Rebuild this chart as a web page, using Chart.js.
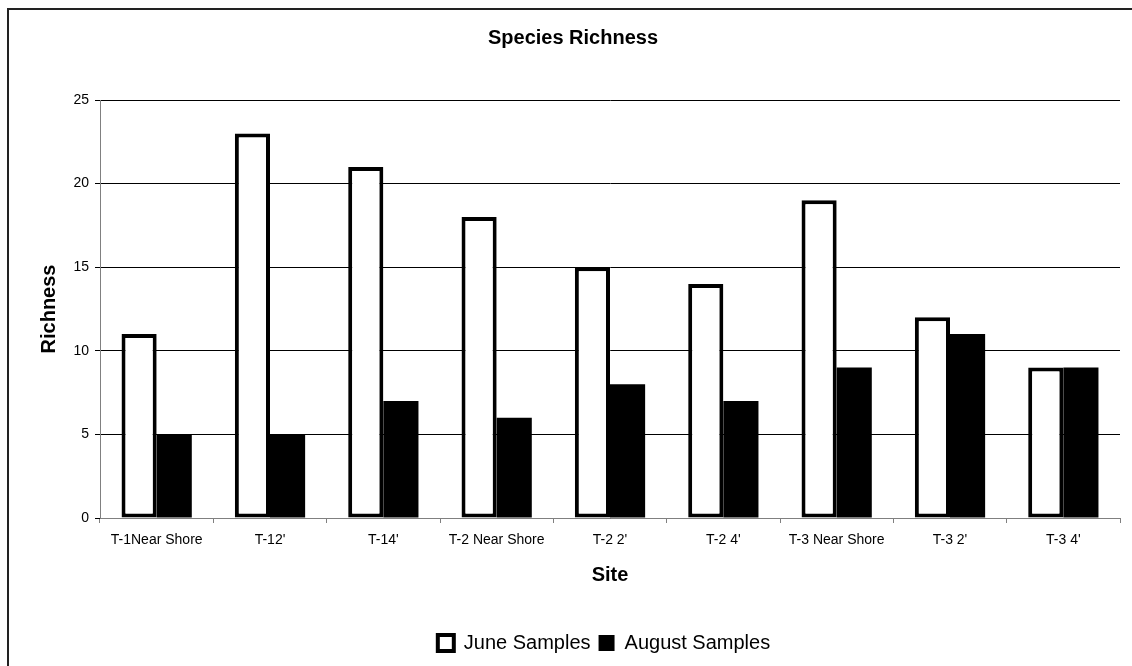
<!DOCTYPE html>
<html>
<head>
<meta charset="utf-8">
<script src="https://cdn.jsdelivr.net/npm/chart.js@4/dist/chart.umd.min.js"></script>
<style>
  html, body { margin: 0; padding: 0; background: #fff; overflow: hidden; }
  #frame { position: absolute; left: 7px; top: 8px; width: 1200px; height: 700px;
           border-left: 2px solid #222; border-top: 2px solid #222; }
  #wrap { position: absolute; left: 0; top: 0; width: 1132px; height: 666px; }
</style>
</head>
<body>
<div id="frame"></div>
<div id="wrap"><canvas id="chart" width="1132" height="666"></canvas></div>
<script>
// site names along the x axis
const sites = ["T-1Near Shore", "T-12'", "T-14'", "T-2 Near Shore", "T-2 2'", "T-2 4'", "T-3 Near Shore", "T-3 2'", "T-3 4'"];
// species richness per site
const juneSamples = [11, 23, 21, 18, 15, 14, 19, 12, 9];
const augustSamples = [5, 5, 7, 6, 8, 7, 9, 11, 9];
const yTicks = [0, 5, 10, 15, 20, 25];

const FONT = '"Liberation Sans", Arial, sans-serif';
Chart.defaults.font.family = FONT;
Chart.defaults.color = '#000';

// nudge title and legend so they center over the plot like the original
const shiftBlocks = {
  id: 'shiftBlocks',
  afterLayout(chart) {
    if (chart.titleBlock) chart.titleBlock.left += 26;
    if (chart.legend) chart.legend.left += 88;
  }
};

new Chart(document.getElementById('chart'), {
  type: 'bar',
  data: {
    labels: sites,
    datasets: [
      {
        label: 'June Samples',
        data: juneSamples,
        backgroundColor: '#fff',
        borderColor: '#000',
        borderWidth: 4,
        borderSkipped: false,
        categoryPercentage: 0.62,
        barPercentage: 1
      },
      {
        label: 'August Samples',
        data: augustSamples,
        backgroundColor: '#000',
        borderColor: '#000',
        borderWidth: 0,
        categoryPercentage: 0.62,
        barPercentage: 1
      }
    ]
  },
  options: {
    responsive: false,
    animation: false,
    layout: { padding: { left: 0, right: 12, top: 0, bottom: 3 } },
    scales: {
      x: {
        grid: { drawOnChartArea: false, color: '#808080', tickLength: 5 },
        border: { color: '#808080', width: 1 },
        ticks: { font: { size: 14 }, padding: 9, maxRotation: 0, autoSkip: false },
        title: { display: true, text: 'Site', font: { size: 20, weight: 'bold' }, padding: { top: 4, bottom: 38 } },
        afterFit: (s) => { s.height = 107; }
      },
      y: {
        min: 0,
        max: 25,
        afterBuildTicks: (s) => { s.ticks = yTicks.map(v => ({ value: v })); },
        grid: { color: '#000', tickLength: 5 },
        border: { color: '#808080', width: 1 },
        ticks: { font: { size: 14 }, padding: 6 },
        title: { display: true, text: 'Richness', font: { size: 20, weight: 'bold' }, padding: { top: 37, bottom: 4 } },
        afterFit: (s) => { s.width = 100; }
      }
    },
    plugins: {
      title: {
        display: true,
        text: 'Species Richness',
        font: { size: 20, weight: 'bold' },
        padding: { top: 26, bottom: 50 }
      },
      legend: {
        position: 'bottom',
        labels: {
          font: { size: 20 },
          boxWidth: 16,
          boxHeight: 16,
          padding: 8,
          generateLabels: (chart) => chart.data.datasets.map((ds, i) => ({
            text: ds.label,
            fillStyle: ds.backgroundColor,
            strokeStyle: '#000',
            lineWidth: i === 0 ? 4 : 0,
            datasetIndex: i
          }))
        }
      },
      tooltip: { enabled: false }
    }
  },
  plugins: [shiftBlocks]
});
</script>
</body>
</html>
